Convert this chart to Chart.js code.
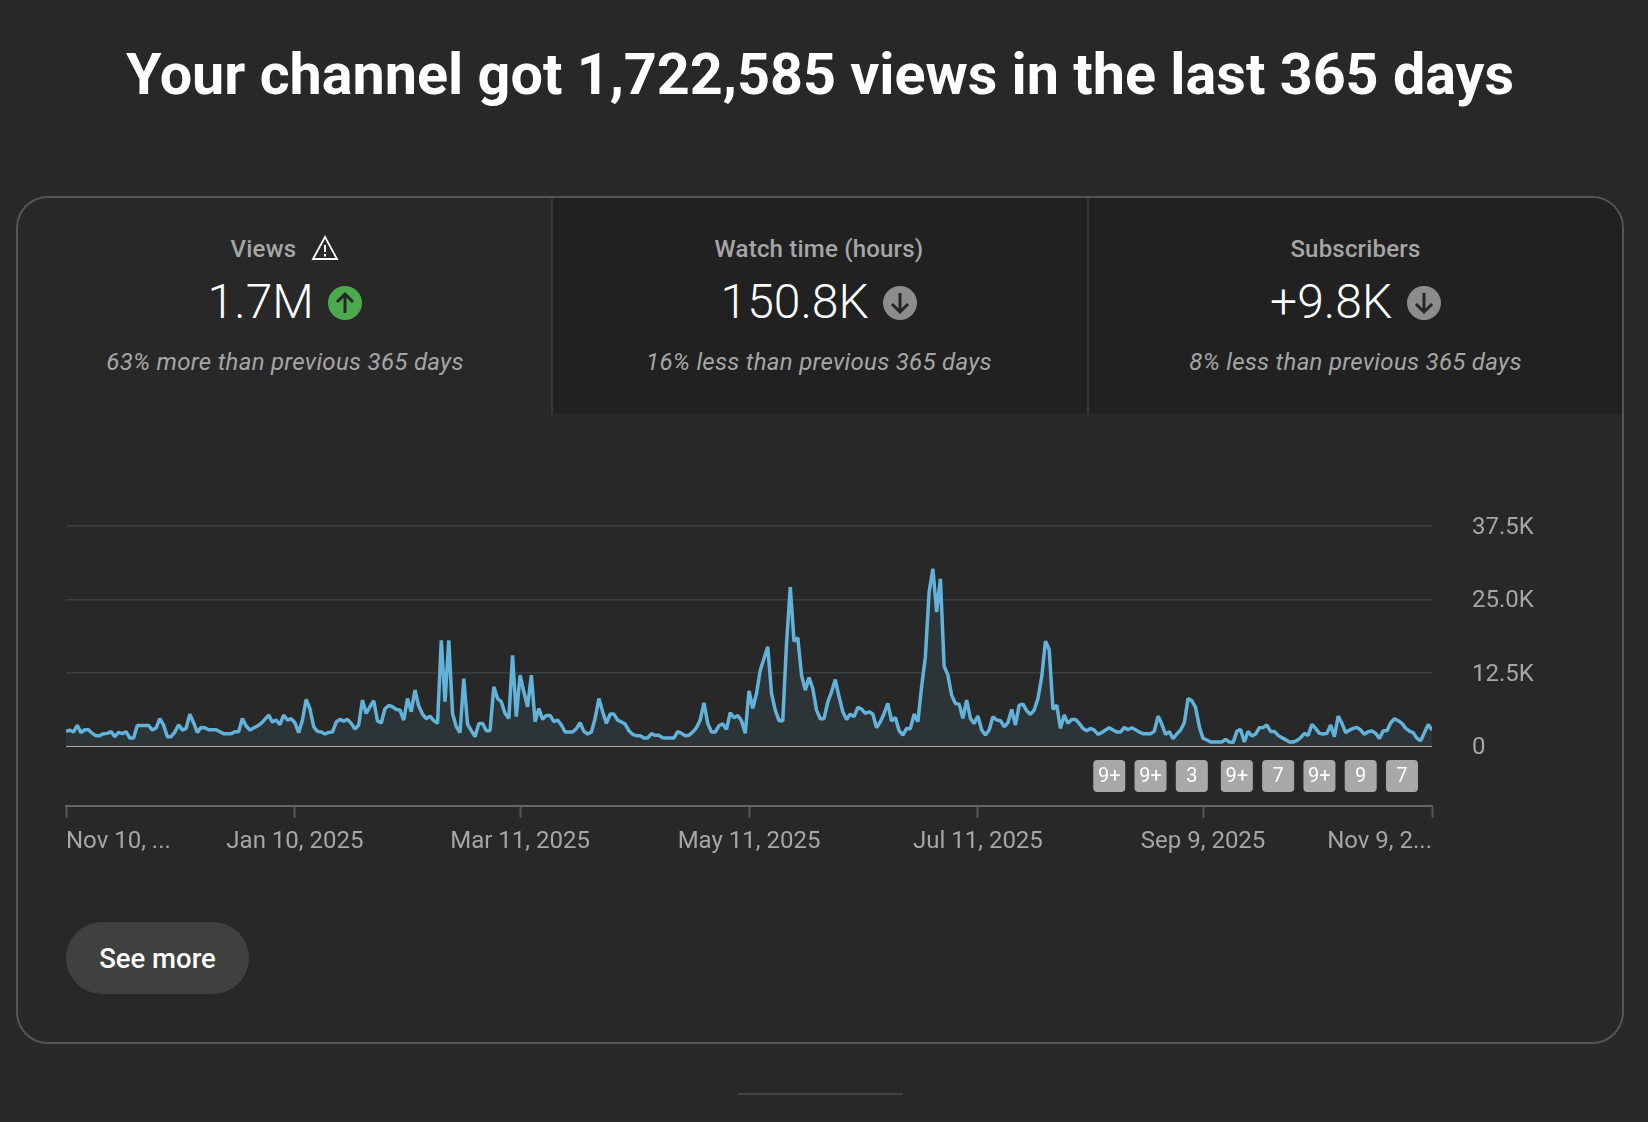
<!DOCTYPE html>
<html lang="en">
<head>
<meta charset="utf-8">
<title>Channel views</title>
<script src="https://cdn.jsdelivr.net/npm/chart.js@4"></script>
<style>
  html, body { margin: 0; background: #282828; }
  body { position: relative; width: 1648px; height: 1122px; overflow: hidden; font-family: Roboto, sans-serif; color: #fff; }
  h1 { position: absolute; left: 0; width: 1640px; top: 41px; margin: 0; text-align: center; font-size: 57.5px; line-height: 68px; font-weight: 700; }
  .card { position: absolute; left: 16px; top: 196px; width: 1608px; height: 848px; box-sizing: border-box; border: 2px solid #555; border-radius: 32px; overflow: hidden; }
  .tab { position: absolute; top: 0; height: 216px; text-align: center; box-sizing: border-box; }
  .tab.off { background: #212121; }
  .tab .name { position: absolute; left: 0; right: 0; top: 36px; font-size: 24px; line-height: 30px; font-weight: 500; letter-spacing: 0.2px; color: #a6a6a6; }
  .tab .num { position: absolute; left: 0; right: 0; top: 71px; font-size: 48px; line-height: 66px; font-weight: 300; }
  .tab .cmp { position: absolute; left: 0; right: 0; top: 149px; font-size: 24px; line-height: 30px; font-style: italic; font-weight: 400; letter-spacing: 0.3px; color: #a6a6a6; }
  .tab svg { vertical-align: -2px; margin-left: 3px; }
  .div { position: absolute; top: 0; width: 2px; height: 216px; background: #33393c; }
  .btn { position: absolute; left: 66px; top: 922px; width: 183px; height: 72px; border-radius: 36px; background: #3e4140; font-size: 27.5px; font-weight: 500; line-height: 74px; text-align: center; }
  .stub { position: absolute; left: 738px; top: 1093px; width: 165px; height: 2px; background: #444; }
  canvas { position: absolute; left: 0; top: 0; pointer-events: none; }
</style>
</head>
<body>
<h1>Your channel got 1,722,585 views in the last 365 days</h1>
<div class="card">
  <div class="tab" style="left:0;width:534px">
    <div class="name">Views <svg width="28" height="26" viewBox="0 0 28 26" style="vertical-align:-4px;margin-left:9px"><path d="M14 2 L26 24 H2 Z" fill="none" stroke="#fff" stroke-width="1.8"/><path d="M14 10 V17 M14 19 V21.5" stroke="#fff" stroke-width="2"/></svg></div>
    <div class="num">1.7M <svg width="34" height="34" viewBox="0 0 34 34"><circle cx="17" cy="17" r="17" fill="#4caa4e"/><path d="M17 27 V9 M9 16 L17 8 L25 16" fill="none" stroke="#262626" stroke-width="3"/></svg></div>
    <div class="cmp">63% more than previous 365 days</div>
  </div>
  <div class="tab off" style="left:533px;width:536px">
    <div class="name">Watch time (hours)</div>
    <div class="num">150.8K <svg width="34" height="34" viewBox="0 0 34 34"><circle cx="17" cy="17" r="17" fill="#8c8c8c"/><path d="M17 7 V25 M9 18 L17 26 L25 18" fill="none" stroke="#262626" stroke-width="3"/></svg></div>
    <div class="cmp">16% less than previous 365 days</div>
  </div>
  <div class="tab off" style="left:1069px;width:537px">
    <div class="name">Subscribers</div>
    <div class="num">+9.8K <svg width="34" height="34" viewBox="0 0 34 34"><circle cx="17" cy="17" r="17" fill="#8c8c8c"/><path d="M17 7 V25 M9 18 L17 26 L25 18" fill="none" stroke="#262626" stroke-width="3"/></svg></div>
    <div class="cmp">8% less than previous 365 days</div>
  </div>
  <div class="div" style="left:533px"></div>
  <div class="div" style="left:1069px"></div>
</div>
<div class="btn">See more</div>
<div class="stub"></div>
<canvas id="plot" width="1648" height="1122"></canvas>

<script>
// Daily views, Nov 10 2024 -> Nov 9 2025
const views = [
  2490,2720,2380,3510,2270,2780,2780,2150,1760,1760,
  2100,2150,2440,1590,2320,2100,2440,1360,1360,3510,
  3510,3510,3510,2720,3060,4650,3570,1590,1590,2380,
  3630,2720,3000,5440,3970,2320,3170,3120,2780,2780,
  2780,2440,2100,2100,2100,2440,2440,4700,3400,2720,
  3060,3400,3850,4530,5270,4080,4420,3630,5270,4420,
  4650,3970,2270,4420,7930,6350,3290,2490,2380,2040,
  2320,2380,4080,4530,4250,4530,3850,2890,3570,7820,
  5550,6690,7710,4310,3910,6350,6910,6690,6230,6120,
  4420,8100,5840,9520,6800,5440,4650,5100,4310,3850,
  18000,7540,18000,5550,3290,2270,11500,3740,2610,1590,
  3850,3850,2610,2610,10090,8100,7540,5550,4700,15470,
  4990,12070,9240,6690,12070,4140,6400,4530,5210,5210,
  4140,4420,3570,2380,2380,2380,2950,3970,2490,2040,
  2380,4700,8100,5840,3850,5440,5440,4420,4080,3740,
  2610,1980,1760,1760,1360,1360,2100,1810,1810,1420,
  1360,1360,1360,2440,2150,1760,1810,2380,3120,4420,
  7370,3850,2380,2380,3460,3800,2830,5670,4820,5210,
  4310,2150,9410,6400,8950,12920,14900,16890,8950,6120,
  4310,4310,17450,27090,17850,18470,12070,9520,11670,9800,
  6120,4650,4650,7540,9240,11330,8390,5840,4530,5440,
  4990,6570,6290,5550,5840,5440,3120,4140,5550,7250,
  4250,4870,2610,1870,3000,2950,5440,4140,10090,15190,
  26240,30200,22840,28500,13600,12070,8670,7250,7140,4700,
  7820,4700,3850,5100,2720,1870,2720,4990,4420,4310,
  3290,3970,6230,3570,6970,7140,6010,5380,6120,8100,
  11790,17850,16430,6230,6970,3000,5270,3850,4530,4530,
  3850,3000,2610,3000,2720,1980,2270,2720,3120,2720,
  2380,2380,3170,2780,3120,2780,2380,2100,2100,2100,
  2490,5100,3740,1980,2440,1250,2040,2720,3970,8100,
  7710,6570,3290,1300,1020,680,680,680,680,1130,
  680,570,2490,2830,680,2490,1700,2040,3120,3170,
  3570,2490,2490,1810,1420,1080,680,680,910,1420,
  2150,1810,3680,3000,2150,2040,2150,3570,1590,5100,
  3850,2270,2720,3000,3170,2720,1980,2440,2550,2150,
  1300,2610,2610,3970,4650,4310,3850,3000,2550,2270,
  1300,910,2320,3680,2720
];

const dayTicks = [0, 61, 121, 182, 243, 303, 364];
const dayLabels = ['Nov 10, ...', 'Jan 10, 2025', 'Mar 11, 2025', 'May 11, 2025', 'Jul 11, 2025', 'Sep 9, 2025', 'Nov 9, 2...'];
const viewTicks = [0, 12500, 25000, 37500];
const viewLabels = ['0', '12.5K', '25.0K', '37.5K'];

// Video markers under the line
const markerDays = [278, 289, 300, 312, 323, 334, 345, 356];
const markerLabels = ['9+', '9+', '3', '9+', '7', '9+', '9', '7'];
const markerLevel = -5100;

const axisFloor = -10230;

// Draws the little grey squares with the video count
const markerPlugin = {
  id: 'markers',
  afterDatasetsDraw(chart) {
    let ctx = chart.ctx;
    let xs = chart.scales.x;
    let ys = chart.scales.y;
    ctx.save();
    markerDays.forEach((day, i) => {
      let cx = xs.getPixelForValue(day);
      let cy = ys.getPixelForValue(markerLevel);
      ctx.fillStyle = '#a8a8a8';
      ctx.beginPath();
      ctx.roundRect(cx - 16, cy - 16, 32, 32, 4);
      ctx.fill();
      ctx.fillStyle = '#fff';
      ctx.font = '400 20px Roboto';
      ctx.textAlign = 'center';
      ctx.textBaseline = 'middle';
      ctx.fillText(markerLabels[i], cx, cy + 1);
    });
    ctx.restore();
  }
};

let plotRef = document.getElementById('plot');

let config = {
  type: 'line',
  data: {
    labels: views.map((v, i) => i),
    datasets: [{
      data: views,
      borderColor: '#62b2da',
      borderWidth: 3.5,
      borderJoinStyle: 'bevel',
      backgroundColor: '#2d3438',
      fill: { value: 0 },
      pointRadius: 0,
      tension: 0
    }]
  },
  options: {
    responsive: false,
    animation: false,
    events: [],
    layout: { padding: { left: 66, top: 526 } },
    plugins: { legend: { display: false }, tooltip: { enabled: false } },
    scales: {
      x: {
        type: 'linear',
        min: 0,
        max: 364,
        afterBuildTicks: (scale) => { scale.ticks = dayTicks.map(v => ({ value: v })); },
        afterFit: (scale) => { scale.height = 316; },
        border: { color: '#666', width: 2 },
        grid: { drawOnChartArea: false, tickLength: 12, tickColor: '#555', tickWidth: 2 },
        ticks: {
          autoSkip: false,
          maxRotation: 0,
          align: 'inner',
          padding: 10,
          color: '#a6a6a6',
          font: { family: 'Roboto', size: 24 },
          callback: (value) => dayLabels[dayTicks.indexOf(value)]
        }
      },
      y: {
        position: 'right',
        min: axisFloor,
        max: 37500,
        afterBuildTicks: (scale) => { scale.ticks = viewTicks.map(v => ({ value: v })); },
        afterFit: (scale) => { scale.width = 216; },
        border: { display: false },
        grid: {
          drawTicks: false,
          lineWidth: (c) => c.tick.value === 0 ? 2 : 1.5,
          color: (c) => c.tick.value === 0 ? '#a8a8a8' : '#3a4042'
        },
        ticks: {
          padding: 40,
          labelOffset: 2,
          color: '#a6a6a6',
          font: { family: 'Roboto', size: 24 },
          callback: (value) => viewLabels[viewTicks.indexOf(value)]
        }
      }
    }
  },
  plugins: [markerPlugin]
};

let chart1 = new Chart(plotRef, config);
</script>
</body>
</html>
